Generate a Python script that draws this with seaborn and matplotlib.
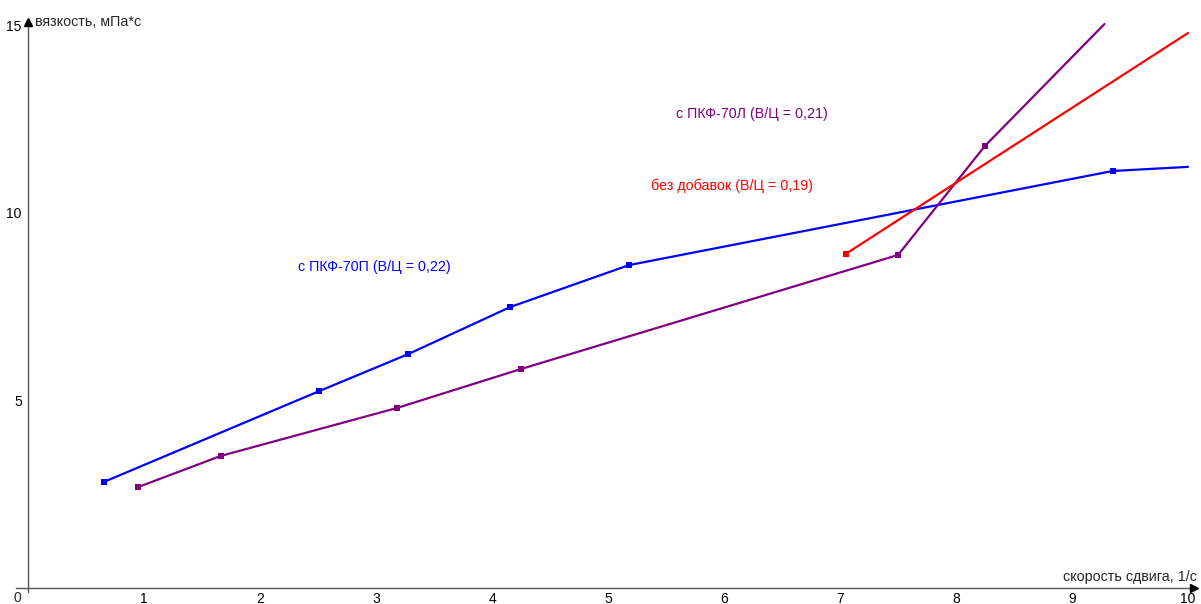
import matplotlib
matplotlib.use("Agg")
import matplotlib.pyplot as plt
import seaborn as sns
import numpy as np
import pandas as pd

# Shear rate (1/s) vs viscosity (mPa*s) for three mixes
blue_x = [0.655, 2.51, 3.28, 4.155, 5.18, 9.35, 10.0]
blue_y = [2.83, 5.25, 6.24, 7.49, 8.61, 11.12, 11.23]
blue_marked = [True, True, True, True, True, True, False]

purple_x = [0.948, 1.66, 3.18, 4.25, 7.50, 8.25, 9.28]
purple_y = [2.69, 3.52, 4.80, 5.84, 8.88, 11.79, 15.04]
purple_marked = [True, True, True, True, True, True, False]

red_x = [7.05, 10.0]
red_y = [8.91, 14.80]
red_marked = [True, False]

labels = ["с ПКФ-70П (В/Ц = 0,22)", "с ПКФ-70Л (В/Ц = 0,21)", "без добавок (В/Ц = 0,19)"]
colors = ["#0000ff", "#800080", "#ff0000"]
label_pos = [(2.33, 8.56), (5.59, 12.65), (5.37, 10.72)]

x_ticks = [1, 2, 3, 4, 5, 6, 7, 8, 9, 10]
y_ticks = [5, 10, 15]

sns.set_theme(style="white")
plt.rcParams["font.family"] = ["Liberation Sans", "DejaVu Sans"]

fig = plt.figure(figsize=(12.01, 6.04), dpi=100)
ax = fig.add_axes([0, 0, 1, 1])
ax.set_xlim(-0.2414, 10.112)
ax.set_ylim(-0.4267, 15.68)

series = [(blue_x, blue_y, blue_marked), (purple_x, purple_y, purple_marked), (red_x, red_y, red_marked)]
for (xs, ys, marked), col in zip(series, colors):
    df = pd.DataFrame({"x": xs, "y": ys, "m": marked})
    sns.lineplot(data=df, x="x", y="y", sort=False, color=col, linewidth=1.6, ax=ax, zorder=3)
    sns.scatterplot(data=df[df["m"]], x="x", y="y", color=col, marker="s", s=22,
                    linewidth=0, ax=ax, zorder=4)

for text, (tx, ty), col in zip(labels, label_pos, colors):
    ax.text(tx, ty, text, color=col, fontsize=10.3, va="center", ha="left")

# Axes through the origin with arrowheads
axis_col = "#555555"
for side in ["top", "right"]:
    ax.spines[side].set_visible(False)
ax.spines["left"].set_position(("data", 0))
ax.spines["bottom"].set_position(("data", 0))
ax.spines["left"].set_bounds(-0.1, 15.1)
ax.spines["bottom"].set_bounds(-0.1, 10.05)
for side in ["left", "bottom"]:
    ax.spines[side].set_color(axis_col)
    ax.spines[side].set_linewidth(1.0)
ax.plot([10.05], [0], marker=">", color="black", markersize=6, clip_on=False, zorder=5)
ax.plot([0], [15.1], marker="^", color="black", markersize=6, clip_on=False, zorder=5)

ax.set_xticks(x_ticks)
ax.set_yticks(y_ticks)
ax.set_xticklabels([str(t) for t in x_ticks])
ax.set_yticklabels([str(t) for t in y_ticks])
ax.tick_params(axis="both", direction="inout", length=5, width=0.8, color=axis_col,
               labelsize=10, labelcolor="black", pad=2)
ax.tick_params(axis="x", pad=0.5)
ax.text(-0.06, -0.07, "0", fontsize=10, ha="right", va="top")

ax.text(0.06, 15.09, "вязкость, мПа*с", fontsize=10.3, ha="left", va="center")
ax.text(10.08, 0.28, "скорость сдвига, 1/с", fontsize=10.3, ha="right", va="center")

ax.set_xlabel("")
ax.set_ylabel("")
ax.grid(False)

fig.savefig("out.png", dpi=100)
